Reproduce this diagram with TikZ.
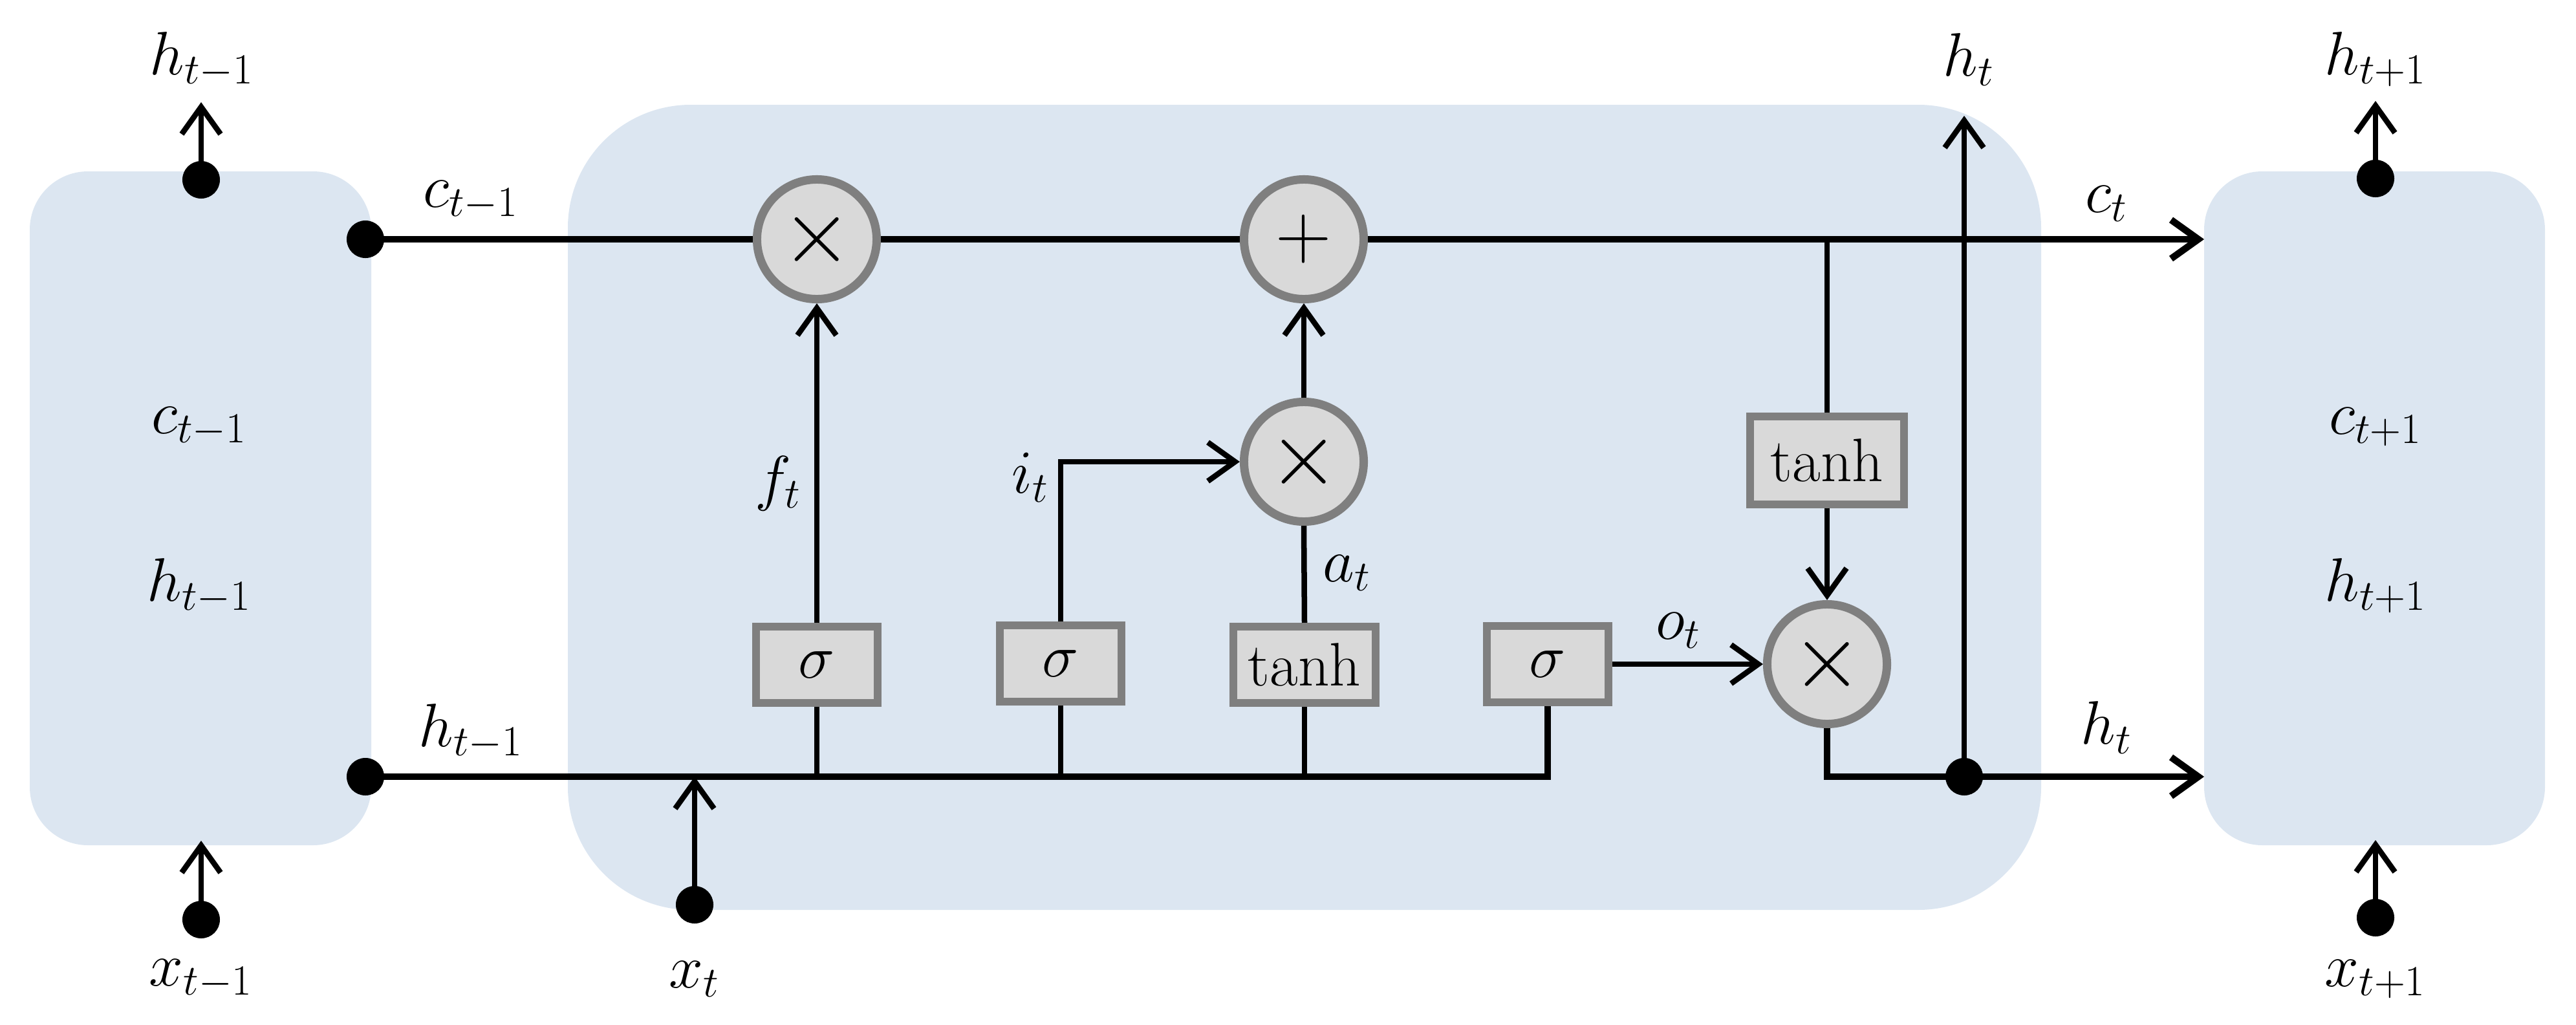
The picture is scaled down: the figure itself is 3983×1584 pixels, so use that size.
\RequirePackage{fix-cm}
\documentclass[tikz,border=0pt]{standalone}
\usetikzlibrary{arrows.meta}
\definecolor{cellblue}{HTML}{DCE6F1}
\definecolor{opfill}{HTML}{D9D9D9}
\definecolor{opdraw}{HTML}{7F7F7F}
\begin{document}
\begin{tikzpicture}[x=0.01cm,y=-0.01cm,
 every node/.style={font=\fontsize{27}{32}\selectfont},
 opcirc/.style={circle, fill=opfill, draw=opdraw, line width=0.13cm, minimum size=1.85cm, inner sep=0pt, font=\fontsize{40}{40}\selectfont},
 gatebox/.style={rectangle, fill=opfill, draw=opdraw, line width=0.12cm, minimum width=1.88cm, minimum height=1.18cm, inner sep=0pt},
 bdot/.style={circle, fill=black, minimum size=0.58cm, inner sep=0pt},
 wire/.style={line width=0.085cm},
 mainwire/.style={line width=0.105cm},
 arr/.style={-{Straight Barb[length=0.42cm,width=0.6cm]}},
 lbl/.style={inner sep=0pt}]
\useasboundingbox (0,0) rectangle (3983,1584);
% cell backgrounds
\fill[cellblue, rounded corners=0.9cm] (46,265) rectangle (574,1307);
\fill[cellblue, rounded corners=1.9cm] (878,162) rectangle (3156,1407);
\fill[cellblue, rounded corners=0.9cm] (3408,265) rectangle (3935,1307);

% operator nodes
\node[opcirc] (mulF) at (1263,370) {$\times$};
\node[opcirc, font=\fontsize{34}{34}\selectfont] (add) at (2016,370) {$+$};
\node[opcirc] (mulI) at (2016,714) {$\times$};
\node[opcirc] (mulO) at (2825,1027) {$\times$};
\node[gatebox] (sig1) at (1263,1028) {$\sigma$};
\node[gatebox] (sig2) at (1640,1026) {$\sigma$};
\node[gatebox, minimum width=2.19cm] (tanh1) at (2017,1028) {tanh};
\node[gatebox] (sig3) at (2393,1027) {$\sigma$};
\node[gatebox, minimum width=2.38cm, minimum height=1.35cm] (tanh2) at (2825,712) {tanh};

% dots
\node[bdot] (cdotL) at (565,370) {};
\node[bdot] (hdotL) at (565,1201) {};
\node[bdot] (hdotR) at (3037,1201) {};
\node[bdot] (xdot) at (1074,1399) {};
\node[bdot] (hupL) at (311,278) {};
\node[bdot] (xinL) at (311,1422) {};
\node[bdot] (hupR) at (3673,276) {};
\node[bdot] (xinR) at (3673,1419) {};

% free ends
\coordinate (ctEnd) at (3408,370);
\coordinate (htEnd) at (3408,1201);
\coordinate (htTop) at (3037,179);
\coordinate (hupLtip) at (311,158);
\coordinate (xinLtip) at (311,1300);
\coordinate (hupRtip) at (3673,156);
\coordinate (xinRtip) at (3673,1299);

% cell state line
\draw[mainwire] (cdotL.center) -- (mulF.west);
\draw[mainwire] (mulF.east) -- (add.west);
\draw[mainwire, arr] (add.east) -- (ctEnd);
\draw[wire] (tanh2 |- add) -- (tanh2.north);
\draw[wire, arr] (tanh2.south) -- (mulO.north);

% hidden/input line
\draw[mainwire] (hdotL.center) -| (sig3.south);
\draw[wire] (sig1.south) -- (sig1 |- hdotL);
\draw[wire] (sig2.south) -- (sig2 |- hdotL);
\draw[wire] (tanh1.south) -- (tanh1 |- hdotL);
\draw[wire, arr] (xdot.center) -- (xdot |- hdotL);

% gates
\draw[wire, arr] (sig1.north) -- (mulF.south);
\draw[wire, arr] (sig2.north) |- (mulI.west);
\draw[wire] (tanh1.north) -- (mulI.south);
\draw[wire, arr] (mulI.north) -- (add.south);
\draw[wire, arr] (sig3.east) -- (mulO.west);

% output
\draw[mainwire] (mulO.south) |- (hdotR.center);
\draw[mainwire, arr] (hdotR.center) -- (htEnd);
\draw[wire, arr] (hdotR.center) -- (htTop);

% neighbouring cells
\draw[wire, arr] (hupL.center) -- (hupLtip);
\draw[wire, arr] (xinL.center) -- (xinLtip);
\draw[wire, arr] (hupR.center) -- (hupRtip);
\draw[wire, arr] (xinR.center) -- (xinRtip);

% labels
\node[lbl] (lhL) at (312,92) {$h_{t-1}$};
\node[lbl] (lht) at (3044,92) {$h_t$};
\node[lbl] (lhR) at (3673,92) {$h_{t+1}$};
\node[lbl] (lcline) at (728,310) {$c_{t-1}$};
\node[lbl] (lhline) at (728,1131) {$h_{t-1}$};
\node[lbl] (lcL) at (308,660) {$c_{t-1}$};
\node[lbl] (lhLb) at (308,906) {$h_{t-1}$};
\node[lbl] (lcR) at (3673,660) {$c_{t+1}$};
\node[lbl] (lhRb) at (3673,906) {$h_{t+1}$};
\node[lbl] (lft) at (1203,748) {$f_t$};
\node[lbl] (lit) at (1593,738) {$i_t$};
\node[lbl] (lat) at (2083,886) {$a_t$};
\node[lbl] (lot) at (2595,975) {$o_t$};
\node[lbl] (lct) at (3257,315) {$c_t$};
\node[lbl] (lhtr) at (3257,1125) {$h_t$};
\node[lbl] (lxL) at (311,1514) {$x_{t-1}$};
\node[lbl] (lxt) at (1074,1514) {$x_t$};
\node[lbl] (lxR) at (3673,1514) {$x_{t+1}$};
\end{tikzpicture}
\end{document}
